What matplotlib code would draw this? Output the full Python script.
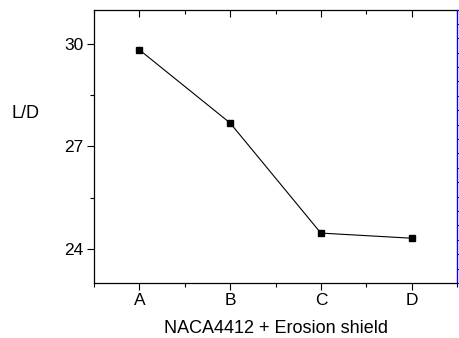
import numpy as np
import matplotlib
matplotlib.use("Agg")
import matplotlib.pyplot as plt
from matplotlib.ticker import MultipleLocator

# ── Data ──────────────────────────────────────────────────────────────────────
labels = ["A", "B", "C", "D"]
ld     = [29.82, 27.68, 24.46, 24.31]

plt.rcParams["font.family"] = ["Liberation Sans", "DejaVu Sans"]

fig = plt.figure(figsize=(4.59, 3.38), dpi=100)
ax = fig.add_axes([94 / 459, 1 - 283 / 338, (457 - 94) / 459, (283 - 9.5) / 338])

x = np.arange(1, len(labels) + 1)
ax.plot(x, ld, color="black", lw=0.8, marker="s", ms=5, mfc="black", mec="black")

ax.set_xlim(0.5, 4.5)
ax.set_ylim(23, 31)
ax.set_xticks(x)
ax.set_xticklabels(labels)
ax.xaxis.set_minor_locator(MultipleLocator(0.5))
ax.set_yticks([24, 27, 30])
ax.yaxis.set_minor_locator(MultipleLocator(1.5))

ax.tick_params(which="both", direction="out", labelsize=12.5, top=True, right=False)
ax.tick_params(which="major", length=5, width=0.8, pad=2.5)
ax.tick_params(which="minor", length=3, width=0.8)
for sp in ax.spines.values():
    sp.set_linewidth(0.9)
ax.spines["right"].set_color("blue")

# top ticks point inward
for t in ax.xaxis.get_major_ticks() + ax.xaxis.get_minor_ticks():
    t.tick2line.set_marker(matplotlib.lines.TICKDOWN)

ax.set_xlabel("NACA4412 + Erosion shield", fontsize=13, labelpad=8)
ax.set_ylabel("L/D", fontsize=13, rotation=0, labelpad=0)
ax.yaxis.set_label_coords(-0.19, 0.59)

# blue right axis ticks
ax2 = ax.twinx()
ax2.set_ylim(0, 19)
ax2.set_yticks(np.arange(0, 20))
ax2.set_yticklabels([])
ax2.tick_params(axis="y", colors="blue", direction="out", length=3, width=0.8)
for sp in ["left", "top", "bottom"]:
    ax2.spines[sp].set_visible(False)
ax2.spines["right"].set_color("blue")

fig.savefig("out.png", dpi=100)
